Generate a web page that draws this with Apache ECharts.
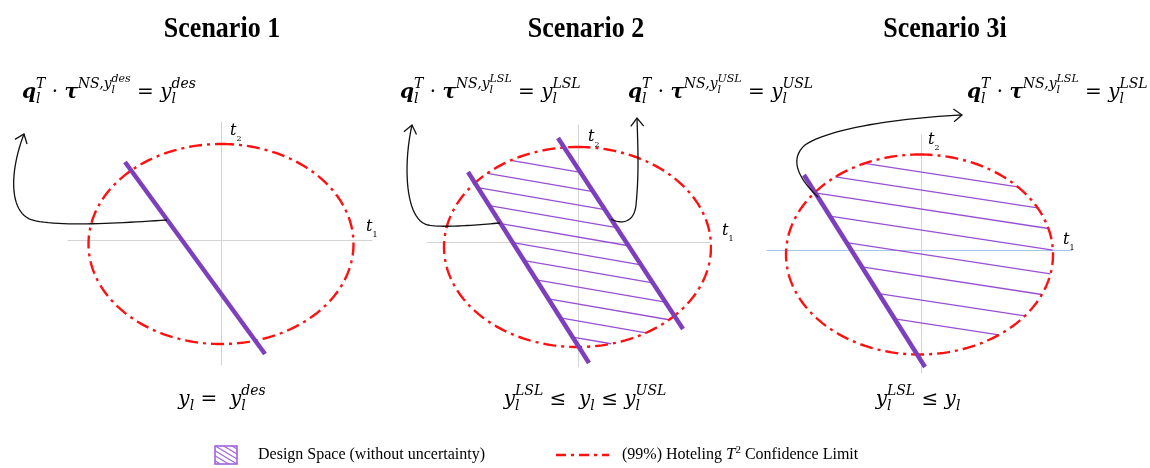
<!DOCTYPE html>
<html>
<head>
<meta charset="utf-8">
<script src="https://cdn.jsdelivr.net/npm/echarts@6/dist/echarts.min.js"></script>
<style>
  html, body { margin: 0; padding: 0; background: #ffffff; }
  #chart { width: 1150px; height: 468px; }
</style>
</head>
<body>
<div id="chart"></div>
<script>
// ---------- chart data (t-space units, origin at each panel's t1/t2 crossing) ----------
const scenarioTitles = ['Scenario 1', 'Scenario 2', 'Scenario 3i'];
const t1Range = [[-15.3, 15.1], [-15.1, 13.2], [-15.4, 15.1]];
const t2Range = [[-12.5, 11.8], [-12.5, 11.7], [-12.3, 11.5]];
// 99% Hotelling T2 limit per panel: [centre t1, centre t2, semi-axis t1, semi-axis t2]
const confidenceEllipse = [[0.0, -0.4, 13.25, 10.0], [-0.05, -0.5, 13.35, 10.0], [-0.15, -0.45, 13.35, 10.0]];
// q_l^T * tau = y_l constraint lines (two end points each)
const constraintLines = [
  [[[-9.6, 7.8], [4.4, -11.4]]],
  [[[-11.0, 7.0], [1.1, -12.1]], [[-2.0, 10.4], [10.5, -8.7]]],
  [[[-11.7, 7.5], [0.4, -11.7]]]
];
// design-space hatching: slope and t2-intercepts of the hatch lines
const hatchSlope = [0, -0.173, -0.153];
const hatchIntercepts = [
  [],
  [7.0, 5.3, 3.7, 2.1, 0.5, -1.2, -2.8, -4.5, -6.2, -7.9, -9.6],
  [7.8, 6.0, 4.1, 2.0, -0.4, -2.6, -5.0, -7.3]
];
// annotation arrows as cubic Bezier chains: P0, C1, C2, P1, C3, C4, P2
const arrowPaths = [
  [[[-5.4, 2.0], [-10.1, 1.7], [-16.1, 1.3], [-18.9, 2.0], [-21.3, 2.8], [-21.1, 7.0], [-19.7, 10.6]]],
  [[[-7.8, 1.9], [-10.3, 1.7], [-13.3, 1.4], [-15.0, 1.7], [-17.3, 2.2], [-17.5, 7.7], [-16.6, 11.7]],
   [[3.3, 2.3], [4.2, 1.8], [5.6, 1.8], [5.8, 3.7], [6.1, 6.7], [6.0, 9.2], [5.9, 12.4]]],
  [[[-10.3, 5.3], [-12.1, 7.0], [-13.3, 9.0], [-11.6, 10.5], [-9.1, 12.2], [-2.1, 13.2], [4.1, 13.5]]]
];
// specification tags shown in the formulas
const formulaTags = [['des'], ['LSL', 'USL'], ['LSL']];

// ---------- layout ----------
const PX = 10;                                   // pixels per t-unit
const panelOrigin = [[221, 240], [578, 242], [921, 250]];
const titleCenter = [222, 586, 945];
const formulaLeft = [[22], [400, 628], [967]];
const bottomCenter = [222, 585, 918];
const tLabelPos = [[[14.5, 0.8], [0.9, 10.4]], [[14.4, 0.6], [1.0, 10.0]], [[14.2, 0.5], [0.7, 10.5]]];

const PURPLE = '#7e3fbd';
const HATCH = '#9850d2';
const RED = '#ff1010';
const MATH = 'DejaVu Serif';
const SERIF = 'Liberation Serif';

// ---------- geometry helpers ----------
function ellipsePoints(e) {
  const pts = [];
  for (let i = 0; i <= 240; i++) {
    const a = Math.PI / 2 - (i / 240) * 2 * Math.PI;
    pts.push([e[0] + e[2] * Math.cos(a), e[1] + e[3] * Math.sin(a)]);
  }
  return pts;
}
function bezierChain(c) {
  const out = [];
  for (let k = 0; k + 3 < c.length; k += 3) {
    const [p0, p1, p2, p3] = [c[k], c[k + 1], c[k + 2], c[k + 3]];
    for (let i = (k === 0 ? 0 : 1); i <= 24; i++) {
      const t = i / 24, u = 1 - t;
      out.push([
        u * u * u * p0[0] + 3 * u * u * t * p1[0] + 3 * u * t * t * p2[0] + t * t * t * p3[0],
        u * u * u * p0[1] + 3 * u * u * t * p1[1] + 3 * u * t * t * p2[1] + t * t * t * p3[1]
      ]);
    }
  }
  return out;
}
function arrowHead(c) {
  const tip = c[c.length - 1], prev = c[c.length - 2];
  let dx = tip[0] - prev[0], dy = tip[1] - prev[1];
  const L = Math.hypot(dx, dy); dx /= L; dy /= L;
  const len = 1.05, th = 38 * Math.PI / 180;
  const arm = s => [tip[0] - len * (dx * Math.cos(th) - s * dy * Math.sin(th)),
                    tip[1] - len * (dy * Math.cos(th) + s * dx * Math.sin(th))];
  return [arm(1), tip, arm(-1)];
}
function hatchSegments(p) {
  const e = confidenceEllipse[p], m = hatchSlope[p], lines = constraintLines[p];
  const segs = [];
  hatchIntercepts[p].forEach(c => {
    const k = c - e[1];
    const A = 1 / (e[2] * e[2]) + m * m / (e[3] * e[3]);
    const B = -2 * e[0] / (e[2] * e[2]) + 2 * m * k / (e[3] * e[3]);
    const C = e[0] * e[0] / (e[2] * e[2]) + k * k / (e[3] * e[3]) - 1;
    const disc = B * B - 4 * A * C;
    if (disc <= 0) return;
    let xa = (-B - Math.sqrt(disc)) / (2 * A), xb = (-B + Math.sqrt(disc)) / (2 * A);
    lines.forEach((ln, idx) => {
      const [[x1, y1], [x2, y2]] = ln;
      const s = (y2 - y1) / (x2 - x1);
      const xi = (y1 - s * x1 - c) / (m - s);
      if (idx === 0) xa = Math.max(xa, xi); else xb = Math.min(xb, xi);
    });
    if (xb > xa) segs.push([[xa, m * xa + c], [xb, m * xb + c]]);
  });
  return segs;
}

// ---------- build grids, axes and series ----------
const grid = [], xAxis = [], yAxis = [], series = [];
for (let p = 0; p < 3; p++) {
  const [ox, oy] = panelOrigin[p];
  const [x0, x1] = t1Range[p], [y0, y1] = t2Range[p];
  grid.push({ left: ox + x0 * PX, top: oy - y1 * PX, width: (x1 - x0) * PX, height: (y1 - y0) * PX,
              containLabel: false, outerBoundsMode: 'none' });
  const hidden = { axisTick: { show: false }, axisLabel: { show: false }, splitLine: { show: false } };
  xAxis.push(Object.assign({ type: 'value', gridIndex: p, min: x0, max: x1,
    axisLine: { show: true, onZero: true, lineStyle: { color: p === 2 ? '#a9c6e6' : '#d4d4d4', width: 1 } } }, hidden));
  yAxis.push(Object.assign({ type: 'value', gridIndex: p, min: y0, max: y1,
    axisLine: { show: true, onZero: true, lineStyle: { color: '#d4d4d4', width: 1 } } }, hidden));

  const ax = { xAxisIndex: p, yAxisIndex: p };
  series.push(Object.assign({
    type: 'lines', coordinateSystem: 'cartesian2d', silent: true, clip: false, z: 2,
    data: hatchSegments(p).map(s => ({ coords: s })),
    lineStyle: { color: HATCH, width: 1.3, opacity: 1 }
  }, ax));
  series.push(Object.assign({
    type: 'line', silent: true, clip: false, z: 3, showSymbol: false, symbol: 'none',
    data: ellipsePoints(confidenceEllipse[p]),
    lineStyle: { color: RED, width: 2.4, type: [13, 5, 3, 5] }
  }, ax));
  series.push(Object.assign({
    type: 'lines', coordinateSystem: 'cartesian2d', silent: true, clip: false, z: 4,
    data: constraintLines[p].map(l => ({ coords: l })),
    lineStyle: { color: PURPLE, width: 4.5, opacity: 1 }
  }, ax));
  const arrowData = [];
  arrowPaths[p].forEach(c => {
    arrowData.push({ coords: bezierChain(c) });
    arrowData.push({ coords: arrowHead(c) });
  });
  series.push(Object.assign({
    type: 'lines', coordinateSystem: 'cartesian2d', polyline: true, silent: true, clip: false, z: 5,
    data: arrowData,
    lineStyle: { color: '#111111', width: 1.3, opacity: 1 }
  }, ax));
}

const chart = echarts.init(document.getElementById('chart'), null, { renderer: 'canvas' });
chart.setOption({ animation: false, backgroundColor: '#ffffff', grid, xAxis, yAxis, series });

// ---------- small typesetter for the math labels ----------
const mctx = document.createElement('canvas').getContext('2d');
function tok(t, f, s, dy, g, fam) { return { t, f, s, dy: dy || 0, g, fam }; }
function styleOf(k, s, fam) {
  return { fontStyle: k.indexOf('i') >= 0 ? 'italic' : 'normal',
           fontWeight: k.indexOf('b') >= 0 ? 'bold' : 'normal', fontSize: s, fontFamily: fam };
}
function typeset(tokens, x, baseline, anchor, fam, fill) {
  const placed = []; let cx = 0;
  for (let i = 0; i < tokens.length;) {
    let j = i + 1;
    if (tokens[i].g) while (j < tokens.length && tokens[j].g === tokens[i].g) j++;
    let w = 0;
    for (let k = i; k < j; k++) {
      const t = tokens[k], st = styleOf(t.f, t.s, t.fam || fam);
      mctx.font = st.fontStyle + ' ' + st.fontWeight + ' ' + st.fontSize + 'px ' + st.fontFamily;
      w = Math.max(w, mctx.measureText(t.t).width);
      placed.push({ t, st, x: cx });
    }
    cx += w; i = j;
  }
  const off = anchor === 'center' ? -cx / 2 : 0;
  return placed.map(p => ({
    type: 'text', silent: true, z: 10,
    x: x + off + p.x, y: baseline + p.t.dy - 0.3 * p.t.s,
    style: Object.assign({ text: p.t.t, fill: fill || '#000', align: 'left', verticalAlign: 'middle' }, p.st)
  }));
}

const B = 20, S1 = 14, S2 = 11;
function formulaTokens(tag) {
  return [
    tok('q', 'bi', B), tok('T', 'i', S1, -10, 'a'), tok('l', 'i', S1, 5, 'a'),
    tok(' \u00B7 ', 'r', B), tok('\u03C4', 'bi', B),
    tok('NS,y', 'i', S1, -10),
    tok(tag, 'i', S2, -17, 'b'), tok('l', 'i', S2, -6, 'b'),
    tok(' = ', 'r', B), tok('y', 'i', B), tok(tag, 'i', S1, -10, 'c'), tok('l', 'i', S1, 5, 'c')
  ];
}
const bottomTokens = [
  [tok('y', 'i', B), tok('l', 'i', S1, 5), tok(' =  ', 'r', B), tok('y', 'i', B),
   tok('des', 'i', S1, -10, 'a'), tok('l', 'i', S1, 5, 'a')],
  [tok('y', 'i', B), tok('LSL', 'i', S1, -10, 'a'), tok('l', 'i', S1, 5, 'a'), tok(' \u2264  ', 'r', B),
   tok('y', 'i', B), tok('l', 'i', S1, 5), tok(' \u2264 ', 'r', B), tok('y', 'i', B),
   tok('USL', 'i', S1, -10, 'b'), tok('l', 'i', S1, 5, 'b')],
  [tok('y', 'i', B), tok('LSL', 'i', S1, -10, 'a'), tok('l', 'i', S1, 5, 'a'), tok(' \u2264 ', 'r', B),
   tok('y', 'i', B), tok('l', 'i', S1, 5)]
];

let elements = [];
for (let p = 0; p < 3; p++) {
  elements.push({ type: 'text', silent: true, x: titleCenter[p], y: 30, scaleY: 1.1, originX: 0, originY: 0,
    style: { text: scenarioTitles[p], fontFamily: SERIF, fontWeight: 'bold', fontSize: 26,
             fill: '#000', align: 'center', verticalAlign: 'middle' } });
  formulaTags[p].forEach((tag, i) => {
    elements = elements.concat(typeset(formulaTokens(tag), formulaLeft[p][i], 99, 'left', MATH));
  });
  elements = elements.concat(typeset(bottomTokens[p], bottomCenter[p], 406, 'center', MATH));
  tLabelPos[p].forEach((pos, i) => {
    const px = chart.convertToPixel({ gridIndex: p }, pos);
    elements = elements.concat(typeset([tok('t', 'i', 16), tok(String(i + 1), 'r', 8, 5)], px[0], px[1], 'left', MATH));
  });
}

// ---------- legend ----------
const sq = { x: 215, y: 446, w: 22, h: 18 };
elements.push({ type: 'rect', silent: true, shape: { x: sq.x, y: sq.y, width: sq.w, height: sq.h },
  style: { fill: '#fff', stroke: '#9b59d6', lineWidth: 1.5 } });
for (let b = -sq.w * 0.6 + 3; b < sq.h; b += 5) {
  const u0 = Math.max(0, -b / 0.6), u1 = Math.min(sq.w, (sq.h - b) / 0.6);
  if (u1 > u0) elements.push({ type: 'line', silent: true,
    shape: { x1: sq.x + u0, y1: sq.y + b + 0.6 * u0, x2: sq.x + u1, y2: sq.y + b + 0.6 * u1 },
    style: { stroke: '#a566dc', lineWidth: 1.2 } });
}
elements.push({ type: 'text', silent: true, x: 258, y: 460 - 0.3 * 16,
  style: { text: 'Design Space (without uncertainty)', fontFamily: SERIF, fontSize: 16, fill: '#000',
           align: 'left', verticalAlign: 'middle' } });
elements.push({ type: 'line', silent: true, shape: { x1: 556, y1: 455, x2: 609, y2: 455 },
  style: { stroke: RED, lineWidth: 2.4, lineDash: [10, 5, 3, 5] } });
elements = elements.concat(typeset([
  tok('(99%) Hoteling ', 'r', 16), tok('T', 'i', 17), tok('2', 'r', 11, -7), tok(' Confidence Limit', 'r', 16)
], 622, 460, 'left', SERIF));

chart.setOption({ graphic: { elements } });
</script>
</body>
</html>
